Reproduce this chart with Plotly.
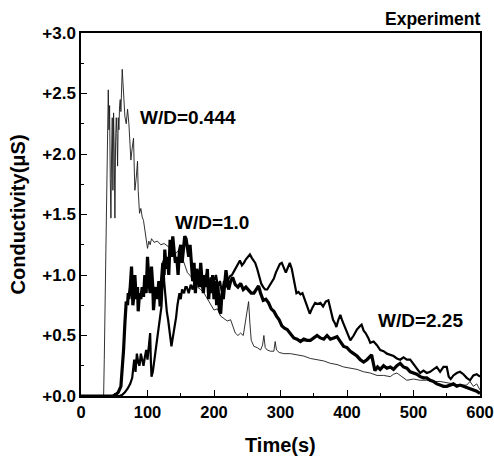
import plotly.graph_objects as go

# ---- data ----
t_044 = [0, 34, 35, 37, 39, 40, 41, 42, 43, 44, 45, 46, 47, 48, 49, 50, 51, 52, 53, 54, 55, 56, 57, 58, 59, 60,
         61, 62, 63, 64, 66, 68, 70, 72, 74, 75, 77, 79, 80, 81, 83, 85, 86, 88, 90, 92, 94, 96, 98, 100, 102,
         104, 106, 110, 115, 120, 125, 130, 135, 138, 142, 146, 150, 155, 160, 165, 170, 175, 180, 185, 190,
         195, 200, 205, 210, 215, 220, 225, 228, 232, 236, 240, 244, 248, 250, 252, 254, 256, 260, 265, 270,
         273, 275, 277, 280, 285, 290, 292, 294, 298, 305, 315, 325, 335, 345, 355, 365, 375, 385, 395, 405,
         415, 425, 435, 445, 455, 465, 470, 475, 480, 490, 500, 510, 520, 530, 540, 550, 560, 570, 580, 585,
         590, 595, 600]
y_044 = [0.0, 0.0, 0.3, 1.2, 1.9, 2.1, 2.53, 2.2, 2.4, 1.8, 1.47, 2.0, 2.3, 1.7, 2.34, 2.0, 1.47, 2.1, 2.3,
         2.17, 1.9, 2.3, 2.2, 2.4, 2.45, 2.35, 2.55, 2.70, 2.6, 2.5, 2.31, 2.25, 2.37, 2.25, 2.05, 1.95, 2.05,
         2.13, 1.9, 1.70, 1.8, 1.94, 1.7, 1.51, 1.55, 1.48, 1.45, 1.38, 1.30, 1.22, 1.28, 1.25, 1.30, 1.27,
         1.28, 1.25, 1.26, 1.24, 1.22, 1.15, 1.18, 1.20, 1.18, 1.10, 1.02, 0.99, 0.93, 0.90, 0.88, 0.85, 0.80,
         0.75, 0.71, 0.72, 0.66, 0.64, 0.62, 0.63, 0.58, 0.52, 0.50, 0.52, 0.50, 0.63, 0.70, 0.78, 0.60, 0.46,
         0.41, 0.40, 0.38, 0.42, 0.50, 0.40, 0.38, 0.37, 0.37, 0.45, 0.38, 0.36, 0.35, 0.35, 0.34, 0.33, 0.31,
         0.30, 0.29, 0.27, 0.26, 0.24, 0.23, 0.22, 0.20, 0.19, 0.17, 0.17, 0.16, 0.18, 0.19, 0.17, 0.13, 0.14,
         0.13, 0.13, 0.12, 0.12, 0.11, 0.10, 0.09, 0.09, 0.12, 0.08, 0.10, 0.05]

t_10 = [0, 48, 52, 56, 60, 62, 64, 66, 68, 70, 71, 72, 74, 76, 77, 78, 80, 81, 83, 85, 86, 88, 90, 92, 94, 96,
        98, 100, 102, 104, 106, 108, 109, 111, 113, 115, 117, 119, 121, 123, 125, 126, 128, 130, 132, 134, 136,
        138, 140, 142, 144, 146, 148, 150, 152, 154, 156, 158, 160, 162, 164, 166, 168, 170, 172, 174, 176,
        178, 180, 182, 184, 186, 188, 190, 192, 194, 196, 198, 200, 202, 204, 206, 208, 210, 212, 214, 216,
        218, 220, 222, 225, 228, 232, 236, 240, 244, 248, 252, 256, 260, 264, 267, 270, 274, 278, 282, 286,
        290, 294, 298, 302, 306, 310, 315, 320, 325, 330, 335, 340, 345, 350, 355, 360, 365, 370, 375, 380,
        385, 390, 395, 400, 405, 410, 415, 420, 425, 430, 435, 437, 440, 442, 446, 450, 455, 460, 465, 470,
        475, 480, 485, 490, 495, 500, 505, 510, 515, 520, 525, 530, 535, 540, 545, 550, 555, 560, 565, 570,
        575, 580, 585, 590, 595, 600]
y_10 = [0.0, 0.0, 0.01, 0.03, 0.08, 0.20, 0.38, 0.60, 0.78, 0.75, 0.85, 0.80, 0.90, 1.07, 0.85, 0.75, 0.85,
        1.00, 0.80, 0.90, 0.70, 0.85, 0.80, 0.90, 0.82, 1.00, 0.85, 1.15, 0.95, 0.85, 1.07, 0.90, 0.71, 0.85,
        0.90, 0.80, 0.95, 0.74, 0.95, 1.10, 1.00, 1.21, 1.05, 1.15, 1.00, 1.29, 1.15, 1.32, 1.20, 1.10, 1.15,
        1.00, 1.20, 1.25, 1.10, 1.25, 1.32, 1.30, 1.20, 1.15, 1.25, 1.10, 0.95, 1.10, 0.85, 1.05, 1.00, 0.90,
        1.10, 0.95, 0.85, 1.00, 0.90, 1.05, 0.80, 0.95, 0.85, 1.00, 0.80, 0.95, 0.75, 0.90, 0.72, 0.68, 0.85,
        0.80, 0.90, 1.04, 0.95, 0.88, 0.95, 0.98, 0.92, 0.90, 0.93, 0.88, 0.90, 0.87, 0.85, 0.85, 0.88, 0.91,
        0.85, 0.79, 0.80, 0.77, 0.72, 0.70, 0.66, 0.63, 0.58, 0.56, 0.55, 0.51, 0.48, 0.47, 0.45, 0.47, 0.46,
        0.46, 0.48, 0.50, 0.48, 0.47, 0.50, 0.47, 0.48, 0.49, 0.45, 0.41, 0.40, 0.37, 0.35, 0.33, 0.30, 0.28,
        0.30, 0.33, 0.34, 0.26, 0.21, 0.24, 0.22, 0.25, 0.23, 0.24, 0.22, 0.25, 0.27, 0.24, 0.23, 0.20, 0.19,
        0.18, 0.16, 0.15, 0.15, 0.13, 0.12, 0.10, 0.09, 0.08, 0.08, 0.09, 0.10, 0.08, 0.09, 0.08, 0.07, 0.06,
        0.05, 0.04, 0.02]

t_225 = [0, 58, 62, 66, 70, 74, 77, 79, 80, 82, 84, 86, 88, 90, 92, 94, 96, 98, 100, 102, 104, 105, 106, 108,
         110, 112, 114, 116, 118, 120, 121, 122, 123, 124, 125, 127, 129, 131, 133, 135, 136, 138, 140, 141,
         143, 145, 146, 148, 150, 152, 155, 157, 159, 162, 165, 168, 171, 174, 177, 180, 183, 186, 189, 192,
         195, 198, 200, 203, 206, 209, 212, 215, 218, 221, 224, 227, 230, 234, 237, 239, 242, 245, 248, 251,
         254, 257, 260, 262, 265, 268, 271, 274, 277, 280, 284, 287, 290, 293, 296, 299, 302, 305, 308, 311,
         314, 317, 319, 321, 324, 327, 330, 333, 336, 340, 344, 348, 352, 356, 360, 364, 368, 372, 375, 379,
         382, 384, 387, 390, 393, 396, 400, 405, 410, 415, 420, 422, 425, 428, 432, 435, 440, 445, 450, 455,
         460, 465, 470, 475, 480, 485, 490, 495, 500, 505, 510, 515, 520, 525, 530, 535, 540, 545, 550, 553,
         556, 560, 565, 570, 575, 580, 585, 590, 595, 600]
y_225 = [0.0, 0.0, 0.01, 0.03, 0.06, 0.10, 0.15, 0.25, 0.30, 0.20, 0.35, 0.28, 0.25, 0.35, 0.30, 0.25, 0.32,
         0.38, 0.30, 0.40, 0.52, 0.30, 0.16, 0.20, 0.28, 0.38, 0.48, 0.52, 0.60, 0.70, 0.74, 0.85, 0.95, 1.12,
         0.95, 0.80, 0.70, 0.63, 0.55, 0.45, 0.41, 0.48, 0.55, 0.57, 0.65, 0.75, 0.79, 0.85, 0.80, 0.88, 0.85,
         0.90, 0.90, 0.85, 0.92, 0.88, 0.95, 1.01, 0.95, 0.92, 0.98, 0.95, 1.01, 0.92, 0.98, 0.90, 0.95, 1.00,
         0.90, 0.95, 0.85, 0.95, 0.90, 0.96, 0.99, 1.00, 1.03, 1.07, 1.10, 1.12, 1.08, 1.10, 1.13, 1.15, 1.17,
         1.14, 1.12, 1.10, 1.05, 0.99, 0.93, 0.90, 0.88, 0.88, 0.92, 0.95, 0.97, 1.02, 1.06, 1.09, 1.10, 1.06,
         1.02, 1.06, 1.10, 1.05, 0.99, 0.92, 0.85, 0.86, 0.84, 0.85, 0.80, 0.75, 0.68, 0.73, 0.77, 0.76, 0.77,
         0.74, 0.78, 0.79, 0.72, 0.63, 0.60, 0.57, 0.63, 0.67, 0.62, 0.58, 0.52, 0.46, 0.50, 0.55, 0.58, 0.59,
         0.54, 0.52, 0.48, 0.44, 0.45, 0.42, 0.38, 0.37, 0.35, 0.34, 0.33, 0.31, 0.30, 0.32, 0.30, 0.30, 0.26,
         0.22, 0.19, 0.21, 0.19, 0.20, 0.22, 0.24, 0.20, 0.24, 0.24, 0.16, 0.14, 0.17, 0.19, 0.20, 0.18, 0.15,
         0.13, 0.17, 0.18, 0.16]

x_ticks = [0, 100, 200, 300, 400, 500, 600]
x_tick_labels = ["0", "100", "200", "300", "400", "500", "600"]
y_ticks = [0.0, 0.5, 1.0, 1.5, 2.0, 2.5, 3.0]
y_tick_labels = ["+0.0", "+0.5", "+1.0", "+1.5", "+2.0", "+2.5", "+3.0"]

labels = ["W/D=0.444", "W/D=1.0", "W/D=2.25"]
label_pos = [(86, 2.30), (138, 1.43), (444, 0.62)]

FONT = "Liberation Sans, Arial, Helvetica, sans-serif"

fig = go.Figure()
fig.add_trace(go.Scatter(x=t_044, y=y_044, mode="lines", line=dict(color="#1a1a1a", width=0.9)))
fig.add_trace(go.Scatter(x=t_225, y=y_225, mode="lines", line=dict(color="#000000", width=2.2)))
fig.add_trace(go.Scatter(x=t_10, y=y_10, mode="lines", line=dict(color="#000000", width=3.2)))

for txt, (lx, ly) in zip(labels, label_pos):
    fig.add_annotation(x=lx, y=ly, xref="x", yref="y", text=txt, showarrow=False,
                       xanchor="left", yanchor="middle",
                       font=dict(family=FONT, size=19, color="#000", weight="bold"))

fig.add_annotation(x=1.005, y=1.0, xref="paper", yref="paper", text="Experiment", showarrow=False,
                   xanchor="right", yanchor="bottom", yshift=2,
                   font=dict(family=FONT, size=17.5, color="#000", weight="bold"))
fig.add_annotation(x=0.5, y=-0.135, xref="paper", yref="paper", text="Time(s)", showarrow=False,
                   xanchor="center", yanchor="middle",
                   font=dict(family=FONT, size=20, color="#000", weight="bold"))
fig.add_annotation(x=-0.158, y=0.5, xref="paper", yref="paper", text="Conductivity(μS)", showarrow=False,
                   xanchor="center", yanchor="middle", textangle=-90,
                   font=dict(family=FONT, size=20, color="#000", weight="bold"))

axis_common = dict(showline=True, linecolor="#000", linewidth=1.5, mirror=True, showgrid=False,
                   zeroline=False, ticks="inside", ticklen=6, tickwidth=1.3, tickcolor="#000",
                   automargin=False, ticklabeloverflow="allow")

fig.update_xaxes(range=[0, 600], tickvals=x_ticks, ticktext=x_tick_labels,
                 tickfont=dict(family=FONT, size=16.5, color="#000", weight="bold"),
                 minor=dict(dtick=50, ticks="inside", ticklen=3, tickcolor="#000", tickwidth=1.2),
                 **axis_common)
fig.update_yaxes(range=[0, 3.0], tickvals=y_ticks, ticktext=y_tick_labels,
                 tickfont=dict(family=FONT, size=17, color="#000", weight="bold"),
                 minor=dict(dtick=0.25, ticks="inside", ticklen=3, tickcolor="#000", tickwidth=1.2),
                 **axis_common)

fig.update_layout(width=494, height=458, margin=dict(l=81, r=14, t=33, b=62, autoexpand=False),
                  plot_bgcolor="white", paper_bgcolor="white", showlegend=False,
                  font=dict(family=FONT, color="#000"))

fig.write_html("out.html")
